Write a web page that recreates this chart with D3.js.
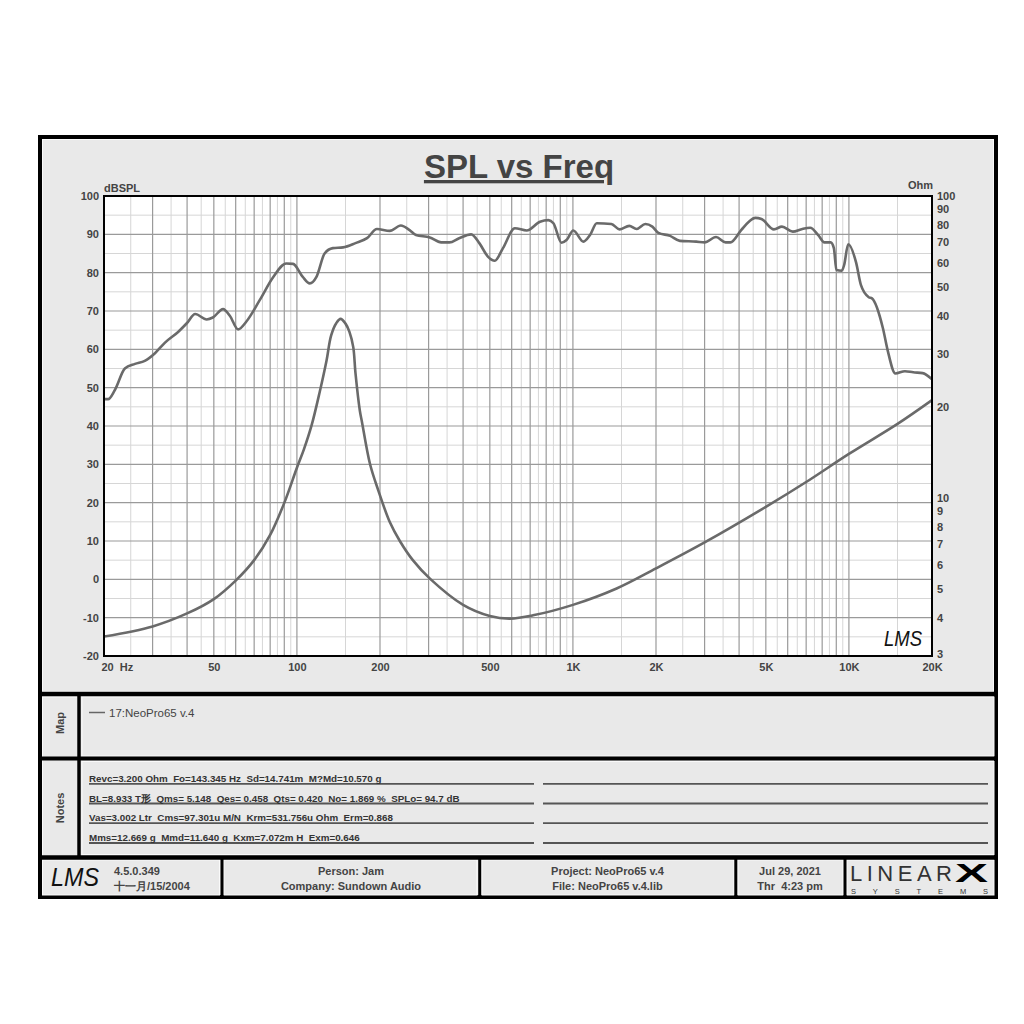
<!DOCTYPE html>
<html><head><meta charset="utf-8">
<script src="https://cdn.jsdelivr.net/npm/d3@7"></script>
<style>
html,body{margin:0;padding:0;background:#fff;}
svg{display:block;}
svg text{font-family:"Liberation Sans",Arial,sans-serif;white-space:pre;}
</style></head><body>
<svg id="c" width="1024" height="1024"></svg>
<script>
// ---------------- DATA ----------------
const splFreq = [20, 20.7, 21.9, 23.8, 25.9, 28.1, 30.6, 33.2, 37.2, 39.9,
                 42.8, 47.1, 49.6, 54, 57.2, 61.2, 65.5, 73.4, 82, 91.5,
                 96.8, 105, 111.3, 117.7, 126, 135, 147, 163, 179.5, 195,
                 217, 238, 256, 270, 303, 333, 357, 387, 428, 458,
                 492, 521, 558, 616, 680, 760, 815, 850, 909, 948,
                 1003, 1092, 1153, 1220, 1378, 1475, 1600, 1700, 1830, 1940,
                 2040, 2250, 2440, 2800, 3000, 3300, 3575, 3720, 4070, 4340,
                 4580, 4820, 5350, 5720, 6260, 6780, 7240, 7740, 8150, 8590,
                 8820, 9010, 9420, 9610, 9940, 10620, 11050, 11800, 12120, 13280,
                 13810, 14740, 15960, 17100, 18500, 20000];
const splDb =   [47.0, 47.0, 49.4, 55.0, 56.2, 57.0, 59.0, 61.7, 64.6, 66.8,
                 69.2, 67.8, 68.3, 70.5, 68.7, 65.2, 67.2, 72.9, 78.8, 82.4,
                 82.3, 78.9, 77.2, 78.9, 85.0, 86.4, 86.6, 87.7, 89.0, 91.4,
                 90.9, 92.3, 91.1, 89.8, 89.2, 87.9, 87.9, 89.0, 90.0, 87.7,
                 84.2, 83.1, 86.4, 91.6, 91.0, 93.3, 93.7, 92.9, 87.8, 88.5,
                 91.0, 88.1, 89.8, 92.9, 92.7, 91.3, 92.2, 91.4, 92.7, 92.0,
                 90.4, 89.6, 88.3, 88.1, 87.9, 89.3, 87.9, 87.9, 91.1, 93.3,
                 94.3, 94.0, 91.3, 92.0, 90.7, 91.4, 91.7, 89.8, 87.9, 87.9,
                 86.4, 80.7, 80.5, 82.0, 87.4, 82.6, 76.8, 73.6, 73.3, 65.5,
                 59.8, 53.7, 54.3, 54.0, 53.8, 52.2];

const impFreq = [20, 30, 40, 50, 60, 70, 80, 90, 100, 106,
                 113, 121, 128, 133, 139, 144, 150, 155, 160, 163,
                 169, 172, 184, 197, 217, 236, 263, 304, 400, 500,
                 590, 717, 1000, 1440, 2000, 3000, 5000, 7000, 10000, 15000,
                 20000];
const impOhm =  [3.48, 3.76, 4.15, 4.63, 5.33, 6.23, 7.55, 9.64, 12.6, 14.5,
                 17.4, 22.5, 28.5, 34.5, 38.0, 39.2, 37.8, 35.5, 31.6, 25.9,
                 19.5, 17.9, 12.97, 10.63, 8.33, 7.21, 6.23, 5.4, 4.43, 4.07,
                 3.99, 4.09, 4.43, 5.02, 5.85, 7.13, 9.35, 11.3, 14.0, 17.6,
                 21.1];

const dbTicks = [100, 90, 80, 70, 60, 50, 40, 30, 20, 10, 0, -10, -20];
const ohmTicks = [100, 90, 80, 70, 60, 50, 40, 30, 20, 10, 9, 8, 7, 6, 5, 4, 3];
const freqTickValues = [20, 50, 100, 200, 500, 1000, 2000, 5000, 10000, 20000];
const freqTickLabels = ["20  Hz", "50", "100", "200", "500", "1K", "2K", "5K", "10K", "20K"];
const freqDecades = [10, 100, 1000, 10000];

const chartTitle = "SPL vs Freq";
const leftAxisTitle = "dBSPL";
const rightAxisTitle = "Ohm";
const legendLabels = ["17:NeoPro65 v.4"];
const noteLines = [
  "Revc=3.200 Ohm  Fo=143.345 Hz  Sd=14.741m  M?Md=10.570 g",
  "BL=8.933 T形  Qms= 5.148  Qes= 0.458  Qts= 0.420  No= 1.869 %  SPLo= 94.7 dB",
  "Vas=3.002 Ltr  Cms=97.301u M/N  Krm=531.756u Ohm  Erm=0.868",
  "Mms=12.669 g  Mmd=11.640 g  Kxm=7.072m H  Exm=0.646"
];
const footerVersion = ["4.5.0.349", "十一月/15/2004"];
const footerPerson = ["Person: Jam", "Company: Sundown Audio"];
const footerProject = ["Project: NeoPro65 v.4", "File: NeoPro65 v.4.lib"];
const footerDate = ["Jul 29, 2021", "Thr  4:23 pm"];

// ---------------- LAYOUT ----------------
const svg = d3.select("#c");
const X0 = 104, X1 = 932, Y0 = 196, Y1 = 656;
const x = d3.scaleLog().domain([20, 20000]).range([X0, X1]);
const y = d3.scaleLinear().domain([-20, 100]).range([Y1, Y0]);
const yR = d3.scaleLog().domain([3, 100]).range([Y1, Y0]);
const TXT = "#444";

// outer frame
svg.append("rect").attr("x", 40).attr("y", 137).attr("width", 956).attr("height", 760)
  .attr("fill", "#e9e9e9").attr("stroke", "#000").attr("stroke-width", 4);
// light bevels
[[42.5,139.5,951,552],[82,697,912,59],[82,761.5,912,93],[42.5,697,35,159],
 [42.5,860,177,35],[224,860,253,35],[482,860,252,35],[738,860,105,35],[847,860,147,35]]
 .forEach(r => svg.append("rect").attr("x", r[0]).attr("y", r[1]).attr("width", r[2]).attr("height", r[3])
   .attr("fill", "none").attr("stroke", "#fafafa").attr("stroke-width", 1));

// separators
const sep = (x1, y1, x2, y2, w) => svg.append("line").attr("x1", x1).attr("y1", y1).attr("x2", x2).attr("y2", y2)
  .attr("stroke", "#000").attr("stroke-width", w);
sep(38, 694, 998, 694, 4.5);
sep(38, 758.5, 998, 758.5, 4);
sep(38, 857.5, 998, 857.5, 4.5);
sep(79, 694, 79, 857, 3.5);
[222, 479.7, 735.8, 845].forEach(xx => sep(xx, 857, xx, 897, 3));

// title
svg.append("text").attr("x", 519).attr("y", 178).attr("text-anchor", "middle")
  .attr("font-size", 33).attr("font-weight", "bold").attr("fill", TXT)
  .attr("text-decoration", "underline").text(chartTitle);

// plot background
svg.append("rect").attr("x", X0).attr("y", Y0).attr("width", X1 - X0).attr("height", Y1 - Y0).attr("fill", "#fff");

// grid
const g = svg.append("g");
const minorF = [], majorF = [];
freqDecades.forEach(d => {
  for (let m = 1; m <= 9; m++) {
    const f = m * d, fh = (m + 0.5) * d;
    if (f > 20 && f < 20000) majorF.push(f);
    if (fh > 20 && fh < 20000) minorF.push(fh);
  }
});
g.selectAll(".vm").data(minorF).enter().append("line")
  .attr("x1", d => x(d)).attr("x2", d => x(d)).attr("y1", Y0).attr("y2", Y1)
  .attr("stroke", "#d6d6d6").attr("stroke-width", 1);
const minorDb = d3.range(-15, 100, 10);
g.selectAll(".hm").data(minorDb).enter().append("line")
  .attr("x1", X0).attr("x2", X1).attr("y1", d => y(d)).attr("y2", d => y(d))
  .attr("stroke", "#d6d6d6").attr("stroke-width", 1);
g.selectAll(".vM").data(majorF).enter().append("line")
  .attr("x1", d => x(d)).attr("x2", d => x(d)).attr("y1", Y0).attr("y2", Y1)
  .attr("stroke", "#9a9a9a").attr("stroke-width", 1.2);
g.selectAll(".hM").data(dbTicks.filter(d => d > -20 && d < 100)).enter().append("line")
  .attr("x1", X0).attr("x2", X1).attr("y1", d => y(d)).attr("y2", d => y(d))
  .attr("stroke", "#9a9a9a").attr("stroke-width", 1.2);

// curves
svg.append("clipPath").attr("id", "clip").append("rect")
  .attr("x", X0).attr("y", Y0).attr("width", X1 - X0).attr("height", Y1 - Y0);
const splLine = d3.line().x(d => x(d[0])).y(d => y(d[1])).curve(d3.curveMonotoneX);
const impLine = d3.line().x(d => x(d[0])).y(d => yR(d[1])).curve(d3.curveCatmullRom.alpha(0.5));
svg.append("path").attr("clip-path", "url(#clip)")
  .attr("d", splLine(splFreq.map((f, i) => [f, splDb[i]])))
  .attr("fill", "none").attr("stroke", "#6a6a6a").attr("stroke-width", 2.6).attr("stroke-linejoin", "round");
svg.append("path").attr("clip-path", "url(#clip)")
  .attr("d", impLine(impFreq.map((f, i) => [f, impOhm[i]])))
  .attr("fill", "none").attr("stroke", "#6a6a6a").attr("stroke-width", 2.6).attr("stroke-linejoin", "round");

// plot border
svg.append("rect").attr("x", X0).attr("y", Y0).attr("width", X1 - X0).attr("height", Y1 - Y0)
  .attr("fill", "none").attr("stroke", "#000").attr("stroke-width", 2);

// LMS mark inside plot
svg.append("text").attr("x", 884).attr("y", 646).attr("font-family", "DejaVu Serif")
  .attr("font-style", "italic").attr("font-size", 22).attr("fill", "#111")
  .attr("textLength", 38).attr("lengthAdjust", "spacingAndGlyphs").text("LMS");

// axes
const styleAxis = sel => {
  sel.select(".domain").remove();
  sel.selectAll("text").attr("font-size", 11).attr("font-weight", "bold").attr("fill", TXT)
    .attr("font-family", "Liberation Sans, Arial, sans-serif");
};
svg.append("g").attr("transform", `translate(${X0},0)`)
  .call(d3.axisLeft(y).tickValues(dbTicks).tickFormat(d => String(d)).tickSize(0).tickPadding(5)).call(styleAxis);
const ra = svg.append("g").attr("transform", `translate(${X1},0)`)
  .call(d3.axisRight(yR).tickValues(ohmTicks).tickFormat(d => String(d)).tickSize(0).tickPadding(5)).call(styleAxis);
ra.selectAll("text").attr("dy", "0.28em");
ra.selectAll(".tick").filter(d => d === 3).select("text").attr("dy", "0.1em");
const xa = svg.append("g").attr("transform", `translate(0,${Y1})`)
  .call(d3.axisBottom(x).tickValues(freqTickValues).tickFormat((d, i) => freqTickLabels[i]).tickSize(0).tickPadding(7))
  .call(styleAxis);
xa.selectAll(".tick").filter((d, i) => i === 0).select("text").attr("text-anchor", "start").attr("dx", -3);

svg.append("text").attr("x", X0).attr("y", 192).attr("font-size", 11).attr("font-weight", "bold")
  .attr("fill", TXT).text(leftAxisTitle);
svg.append("text").attr("x", 933).attr("y", 189).attr("text-anchor", "end").attr("font-size", 11)
  .attr("font-weight", "bold").attr("fill", TXT).text(rightAxisTitle);

// Map panel
svg.append("text").attr("transform", "translate(64,723) rotate(-90)").attr("text-anchor", "middle")
  .attr("font-size", 11).attr("font-weight", "bold").attr("fill", TXT).text("Map");
legendLabels.forEach((lab, i) => {
  svg.append("line").attr("x1", 89).attr("x2", 105).attr("y1", 712.5 + i * 16).attr("y2", 712.5 + i * 16)
    .attr("stroke", "#666").attr("stroke-width", 1.5);
  svg.append("text").attr("x", 109).attr("y", 716.5 + i * 16).attr("font-size", 11.5).attr("fill", TXT).text(lab);
});

// Notes panel
svg.append("text").attr("transform", "translate(64,808) rotate(-90)").attr("text-anchor", "middle")
  .attr("font-size", 11).attr("font-weight", "bold").attr("fill", TXT).text("Notes");
const noteY = [783.8, 803.5, 823.2, 843];
noteY.forEach((ly, i) => {
  svg.append("line").attr("x1", 89).attr("x2", 534).attr("y1", ly).attr("y2", ly).attr("stroke", "#555").attr("stroke-width", 1.8);
  svg.append("line").attr("x1", 543).attr("x2", 988).attr("y1", ly).attr("y2", ly).attr("stroke", "#555").attr("stroke-width", 1.8);
  svg.append("text").attr("x", 89).attr("y", ly - 2).attr("font-size", 9.8).attr("font-weight", "bold")
    .attr("fill", "#333").text(noteLines[i]);
});

// Footer
svg.append("text").attr("x", 51).attr("y", 886).attr("font-family", "DejaVu Serif")
  .attr("font-style", "italic").attr("font-size", 26).attr("fill", "#111")
  .attr("textLength", 48).attr("lengthAdjust", "spacingAndGlyphs").text("LMS");
const ftext = (xx, anchor, lines) => lines.forEach((t, i) =>
  svg.append("text").attr("x", xx).attr("y", 874.5 + i * 15).attr("text-anchor", anchor)
    .attr("font-size", 11).attr("font-weight", "bold").attr("fill", TXT).text(t));
ftext(114, "start", footerVersion);
ftext(351, "middle", footerPerson);
ftext(607.5, "middle", footerProject);
ftext(790, "middle", footerDate);
// Linear X logo
svg.append("text").attr("x", 850).attr("y", 881).attr("font-family", "Liberation Serif, serif")
  .attr("font-size", 22).attr("fill", "#333").attr("textLength", 102).attr("lengthAdjust", "spacing").text("LINEAR");
svg.append("text").attr("x", 955).attr("y", 882).attr("font-family", "Liberation Serif, serif")
  .attr("font-size", 26).attr("font-weight", "bold").attr("fill", "#000")
  .attr("textLength", 33).attr("lengthAdjust", "spacingAndGlyphs").text("X");
svg.append("text").attr("x", 851).attr("y", 894).attr("font-family", "Liberation Serif, serif")
  .attr("font-size", 7.5).attr("fill", "#333").attr("textLength", 137).attr("lengthAdjust", "spacing").text("SYSTEMS");
</script>
</body></html>
